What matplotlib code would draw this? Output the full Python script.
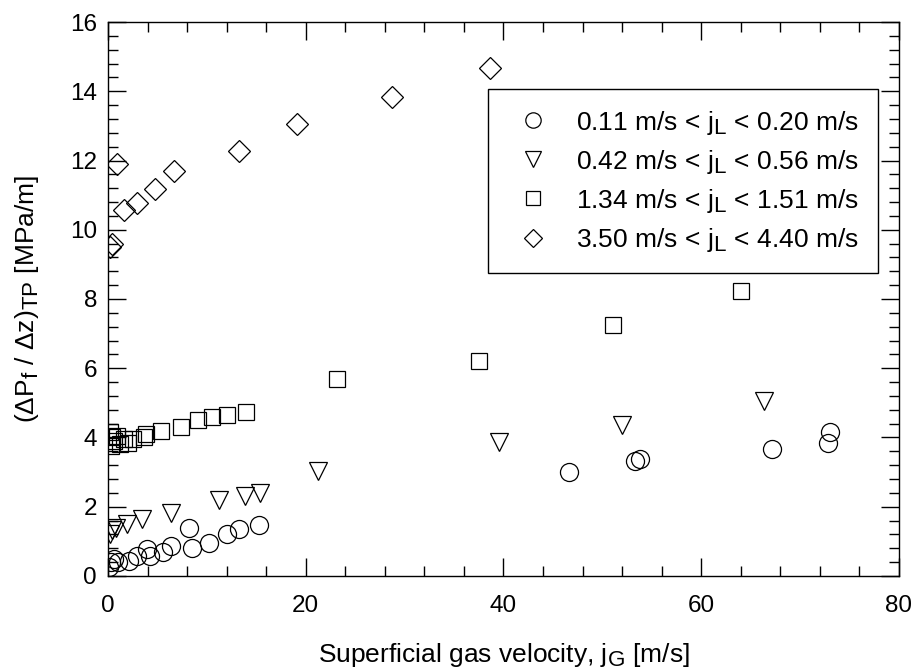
import matplotlib
matplotlib.use('Agg')
import matplotlib.pyplot as plt
import matplotlib._mathtext as mathtext_int
from matplotlib.ticker import MultipleLocator

plt.rcParams['font.family'] = ['Liberation Sans', 'DejaVu Sans']
plt.rcParams['mathtext.fontset'] = 'custom'
plt.rcParams['mathtext.rm'] = 'Liberation Sans'
plt.rcParams['mathtext.it'] = 'Liberation Sans'
plt.rcParams['mathtext.default'] = 'regular'
mathtext_int.SHRINK_FACTOR = 0.85   # subscritos maiores, como no original

# Dados
jG_c = [0.15, 0.3, 0.65, 1.05, 2.1, 2.9, 3.9, 4.25, 5.6, 6.4, 8.2, 8.5, 10.2, 12.0, 13.3, 15.3,
        46.6, 53.3, 53.8, 67.2, 72.8, 73.0]
dp_c = [0.25, 0.40, 0.50, 0.39, 0.43, 0.58, 0.77, 0.58, 0.68, 0.87, 1.40, 0.82, 0.96, 1.22, 1.37, 1.47,
        3.01, 3.33, 3.38, 3.68, 3.84, 4.17]

jG_t = [0.2, 0.4, 0.8, 1.9, 3.4, 6.4, 11.2, 13.9, 15.4, 21.2, 39.5, 52.0, 66.4]
dp_t = [1.22, 1.32, 1.40, 1.50, 1.64, 1.83, 2.19, 2.32, 2.41, 3.04, 3.86, 4.36, 5.04]

jG_s = [0.2, 0.3, 0.4, 0.6, 0.9, 1.2, 1.6, 2.0, 2.5, 3.6, 3.8, 5.4, 7.4, 9.1, 10.5, 12.0, 14.0,
        23.2, 37.5, 51.1, 64.0]
dp_s = [4.15, 3.75, 4.00, 3.90, 4.05, 3.80, 3.95, 3.85, 3.95, 4.00, 4.10, 4.20, 4.30, 4.50, 4.58, 4.66, 4.73,
        5.70, 6.22, 7.26, 8.23]

jG_d = [0.2, 0.37, 0.88, 1.62, 2.9, 4.75, 6.67, 13.2, 19.1, 28.7, 38.6]
dp_d = [9.50, 9.58, 11.91, 10.58, 10.76, 11.19, 11.69, 12.28, 13.05, 13.82, 14.66]

rotulos = [r'0.11 m/s < $j_L$ < 0.20 m/s',
           r'0.42 m/s < $j_L$ < 0.56 m/s',
           r'1.34 m/s < $j_L$ < 1.51 m/s',
           r'3.50 m/s < $j_L$ < 4.40 m/s']


def main():
    fig = plt.figure(figsize=(9.16, 6.71), dpi=100)
    ax = fig.add_axes([0.1179, 0.1416, 0.8635, 0.8256])

    estilo = dict(linestyle='none', markerfacecolor='none', markeredgecolor='black', markeredgewidth=0.9)
    ax.plot(jG_c, dp_c, marker='o', markersize=13, label=rotulos[0], **estilo)
    ax.plot(jG_t, dp_t, marker='v', markersize=13, label=rotulos[1], **estilo)
    ax.plot(jG_s, dp_s, marker='s', markersize=12, label=rotulos[2], **estilo)
    ax.plot(jG_d, dp_d, marker='D', markersize=11, label=rotulos[3], **estilo)

    ax.set_xlim(0, 80)
    ax.set_ylim(0, 16)
    ax.xaxis.set_major_locator(MultipleLocator(20))
    ax.xaxis.set_minor_locator(MultipleLocator(4))
    ax.yaxis.set_major_locator(MultipleLocator(2))
    ax.yaxis.set_minor_locator(MultipleLocator(0.4))
    ax.tick_params(which='both', direction='in', top=True, right=True, width=1)
    ax.tick_params(which='major', length=13, labelsize=17.5)
    ax.tick_params(which='minor', length=7.5)
    ax.tick_params(axis='x', which='major', pad=14)
    ax.tick_params(axis='y', which='major', pad=8)
    for s in ax.spines.values():
        s.set_linewidth(1)

    ax.set_xlabel(r'Superficial gas velocity, $j_G$ [m/s]', fontsize=19, labelpad=17)
    ax.set_ylabel(r'$(\Delta P_f$ / $\Delta z)_{TP}$ [MPa/m]', fontsize=19, labelpad=21)

    leg = ax.legend(loc='upper right', bbox_to_anchor=(0.9735, 0.879), borderaxespad=0, fontsize=19,
                    frameon=True, fancybox=False, edgecolor='black', framealpha=1,
                    labelspacing=0.42, borderpad=0.74, handletextpad=0.65, handlelength=1.93,
                    markerscale=0.85)
    leg.get_frame().set_linewidth(1)

    fig.savefig('out.png', dpi=100)


if __name__ == '__main__':
    main()
